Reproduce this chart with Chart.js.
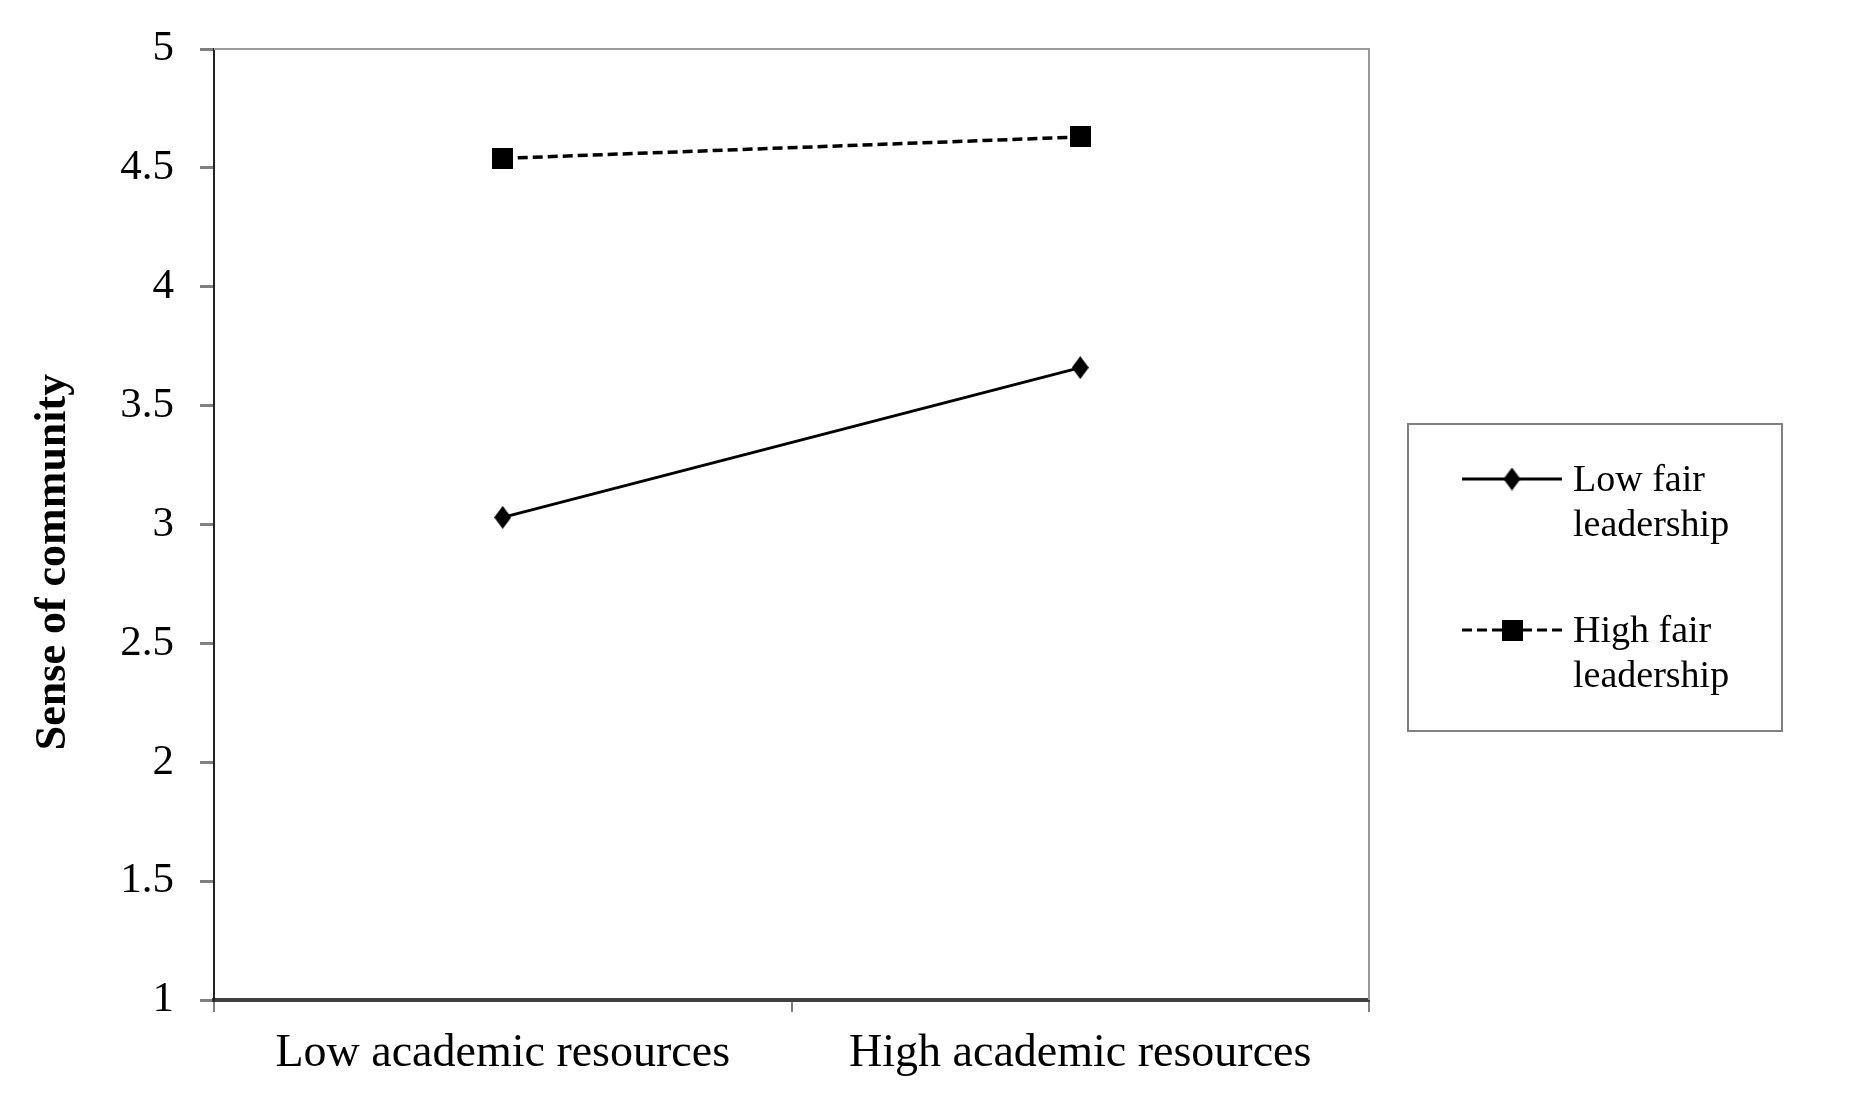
<!DOCTYPE html>
<html>
<head>
<meta charset="utf-8">
<script src="https://cdn.jsdelivr.net/npm/chart.js@4.4.0/dist/chart.umd.min.js"></script>
<style>
  body { margin: 0; background: #fff; }
  #wrap { width: 1851px; height: 1098px; }
</style>
</head>
<body>
<div id="wrap"><canvas id="myChart" width="1851" height="1098"></canvas></div>
<script>
const categories = ["Low academic resources", "High academic resources"];
const lowFair = [3.03, 3.66];
const highFair = [4.54, 4.63];
const seriesNames = [["Low fair", "leadership"], ["High fair", "leadership"]];
const yTicks = [1, 1.5, 2, 2.5, 3, 3.5, 4, 4.5, 5];
const yTitle = "Sense of community";

const FONT = "'Liberation Serif', 'Times New Roman', serif";

// little canvases used as point markers
function makeDiamond(w, h) {
  const c = document.createElement("canvas");
  c.width = w; c.height = h;
  const g = c.getContext("2d");
  g.fillStyle = "#000";
  g.beginPath();
  g.moveTo(w / 2, 0);
  g.lineTo(w, h / 2);
  g.lineTo(w / 2, h);
  g.lineTo(0, h / 2);
  g.closePath();
  g.fill();
  return c;
}
function makeSquare(s) {
  const c = document.createElement("canvas");
  c.width = s; c.height = s;
  const g = c.getContext("2d");
  g.fillStyle = "#000";
  g.fillRect(0, 0, s, s);
  return c;
}
const diamond = makeDiamond(17, 23);
const square = makeSquare(21);

// frame on top / right, y title, boxed legend
const extras = {
  id: "extras",
  afterDraw(chart) {
    const ctx = chart.ctx;
    const a = chart.chartArea;
    ctx.save();
    ctx.strokeStyle = "#9a9a9a";
    ctx.lineWidth = 2;
    ctx.beginPath();
    ctx.moveTo(a.left, a.top);
    ctx.lineTo(a.right, a.top);
    ctx.lineTo(a.right, a.bottom);
    ctx.stroke();

    // y title
    ctx.save();
    ctx.translate(54, 562);
    ctx.rotate(-Math.PI / 2);
    ctx.font = "bold 44px " + FONT;
    ctx.fillStyle = "#000";
    ctx.textAlign = "center";
    ctx.textBaseline = "middle";
    ctx.fillText(yTitle, 0, 0);
    ctx.restore();

    // legend box
    ctx.strokeStyle = "#808080";
    ctx.lineWidth = 2;
    ctx.strokeRect(1408, 424, 374, 307);

    const rows = [479, 630];
    chart.data.datasets.forEach((ds, i) => {
      const y = rows[i];
      ctx.strokeStyle = "#000";
      ctx.lineWidth = 3;
      ctx.setLineDash(ds.borderDash || []);
      ctx.beginPath();
      ctx.moveTo(1462, y);
      ctx.lineTo(1562, y);
      ctx.stroke();
      ctx.setLineDash([]);
      const img = ds.pointStyle;
      ctx.drawImage(img, 1512 - img.width / 2, y - img.height / 2);
      ctx.fillStyle = "#000";
      ctx.font = "38px " + FONT;
      ctx.textAlign = "left";
      ctx.textBaseline = "alphabetic";
      seriesNames[i].forEach((t, k) => {
        ctx.fillText(t, 1573, y + 12 + k * 45);
      });
    });
    ctx.restore();
  }
};

new Chart(document.getElementById("myChart"), {
  type: "line",
  data: {
    labels: categories,
    datasets: [
      {
        label: seriesNames[0].join(" "),
        data: lowFair,
        borderColor: "#000",
        borderWidth: 3,
        pointStyle: diamond,
        pointRadius: 10,
        tension: 0,
      },
      {
        label: seriesNames[1].join(" "),
        data: highFair,
        borderColor: "#000",
        borderWidth: 3.5,
        borderDash: [10, 5],
        pointStyle: square,
        pointRadius: 10,
        tension: 0,
      },
    ],
  },
  plugins: [extras],
  options: {
    responsive: false,
    animation: false,
    layout: { padding: { left: 0, top: 49, right: 482, bottom: 0 } },
    plugins: {
      legend: { display: false },
      tooltip: { enabled: false },
    },
    scales: {
      x: {
        offset: true,
        grid: {
          offset: true,
          drawOnChartArea: false,
          drawTicks: true,
          tickLength: 12,
          color: "#808080",
          lineWidth: 2,
        },
        border: { display: true, color: "#404040", width: 4 },
        ticks: {
          color: "#000",
          padding: 14,
          font: { family: FONT, size: 46 },
          maxRotation: 0,
        },
        afterFit: (scale) => { scale.height = 98; },
      },
      y: {
        min: 1,
        max: 5,
        afterBuildTicks: (scale) => {
          scale.ticks = yTicks.map((v) => ({ value: v }));
        },
        grid: {
          drawOnChartArea: false,
          drawTicks: true,
          tickLength: 14,
          color: "#808080",
          lineWidth: 3,
        },
        border: { display: true, color: "#222", width: 2 },
        ticks: {
          color: "#000",
          padding: 26,
          font: { family: FONT, size: 43 },
          callback: (v) => String(v),
        },
        afterFit: (scale) => {
          scale.width = 214;
          scale.paddingTop = 0;
          scale.paddingBottom = 0;
        },
      },
    },
  },
});
</script>
</body>
</html>
